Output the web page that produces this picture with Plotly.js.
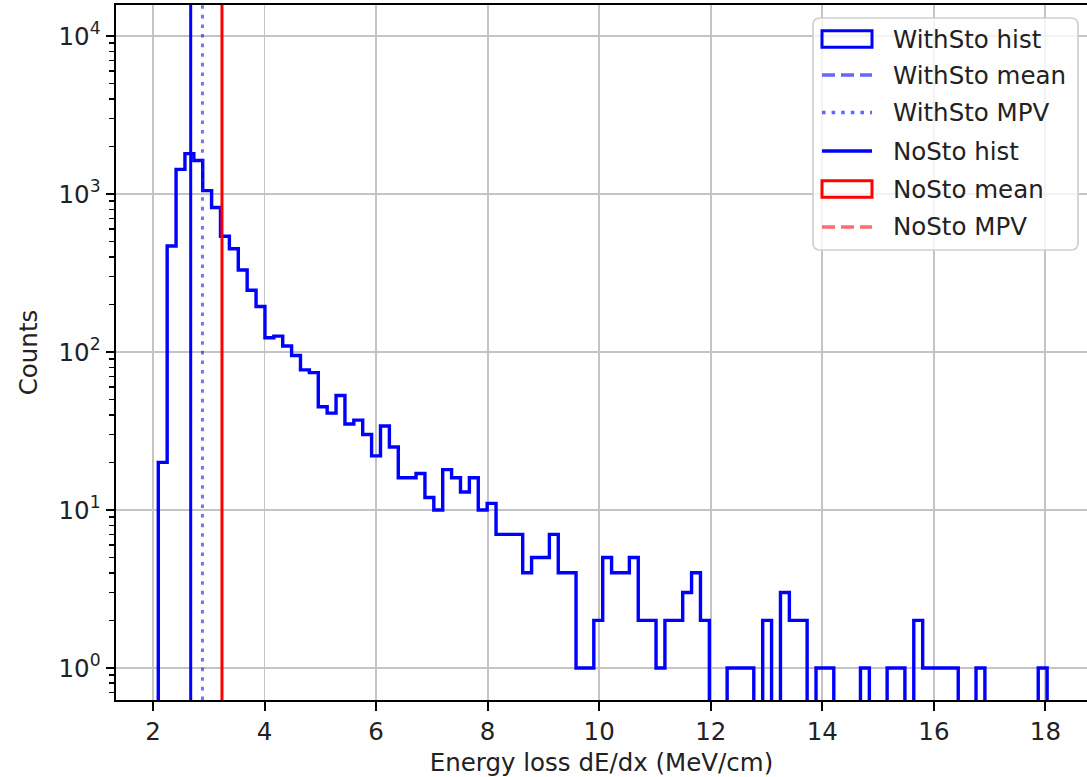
<!DOCTYPE html>
<html><head><meta charset="utf-8">
<script src="https://cdn.plot.ly/plotly-3.0.1.min.js"></script>
<style>html,body{margin:0;padding:0;background:#fff;overflow:hidden}#chart{width:1087px;height:777px}</style>
</head><body><div id="chart"></div>
<script>
// ---------------- data ----------------
const binRange = [2.095, 18.03];          // histogram range, 100 equal bins
const binCounts = [
  20, 468, 1430, 1800, 1630, 1050, 820, 540, 450, 330,
  246, 194, 123, 126, 109, 95, 77, 74, 45, 41,
  53, 35, 37, 30, 22, 34, 25, 16, 16, 17,
  12, 10, 18, 16, 13, 16, 10, 11, 7, 7,
  7, 4, 5, 5, 7, 4, 4, 1, 1, 2,
  5, 4, 4, 5, 2, 2, 1, 2, 2, 3,
  4, 2, 0, 0, 1, 1, 1, 0, 2, 0,
  3, 2, 2, 0, 1, 1, 0, 0, 0, 1,
  0, 0, 1, 1, 0, 2, 1, 1, 1, 1,
  0, 0, 1, 0, 0, 0, 0, 0, 0, 1
];
const meanWithSto = 2.676;   // solid blue line
const mpvWithSto  = 2.887;   // dotted blue line
const meanNoSto   = 3.237;   // solid red line
const legendLabels = ['WithSto hist', 'WithSto mean', 'WithSto MPV', 'NoSto hist', 'NoSto mean', 'NoSto MPV'];
const xTickVals = [2, 4, 6, 8, 10, 12, 14, 16, 18];
const xTickText = ['2', '4', '6', '8', '10', '12', '14', '16', '18'];
const yTickVals = [1, 10, 100, 1000, 10000];
const yTickText = ['10<sup>0</sup>', '10<sup>1</sup>', '10<sup>2</sup>', '10<sup>3</sup>', '10<sup>4</sup>'];
const yMinorVals = [0.7, 0.8, 0.9, 2, 3, 4, 5, 6, 7, 8, 9, 20, 30, 40, 50, 60, 70, 80, 90,
  200, 300, 400, 500, 600, 700, 800, 900, 2000, 3000, 4000, 5000, 6000, 7000, 8000, 9000];
const xTitle = 'Energy loss dE/dx (MeV/cm)';
const yTitle = 'Counts';

// ---------------- build step outline ----------------
const nB = binCounts.length;
const bw = (binRange[1] - binRange[0]) / nB;
const logFloor = 1e-3; // empty bins fall below the axis (clipped, like matplotlib)
const stepX = [binRange[0]], stepY = [logFloor];
for (let i = 0; i < nB; i++) {
  const a = binRange[0] + i * bw, b = a + bw;
  const c = binCounts[i] > 0 ? binCounts[i] : logFloor;
  stepX.push(a, b); stepY.push(c, c);
}
stepX.push(binRange[1]); stepY.push(logFloor);

// ---------------- geometry helpers ----------------
const W = 1087, H = 777, ML = 116, MR = 0, MT = 5, MB = 77;
const PW = W - ML - MR, PH = H - MT - MB;
const pxX = p => (p - ML) / PW;
const pxY = p => (H - MB - p) / PH;

const FONT = 'DejaVu Sans, Liberation Sans, sans-serif';
const TXT = '#222';
const FS = 24.5;

const traces = [{
  type: 'scatter', mode: 'lines', x: stepX, y: stepY,
  line: {color: 'blue', width: 3.4, shape: 'linear'},
  hoverinfo: 'skip', showlegend: false
}];

const shapes = [
  {type: 'line', xref: 'x', yref: 'paper', x0: meanWithSto, x1: meanWithSto, y0: 0, y1: 1, line: {color: 'blue', width: 3}},
  {type: 'line', xref: 'x', yref: 'paper', x0: mpvWithSto, x1: mpvWithSto, y0: 0, y1: 1, line: {color: 'rgba(20,20,255,0.6)', width: 3, dash: '3.6px,6px'}},
  {type: 'line', xref: 'x', yref: 'paper', x0: meanNoSto, x1: meanNoSto, y0: 0, y1: 1, line: {color: 'red', width: 3}}
];

// legend box (rounded)
const bx0 = pxX(813), bx1 = pxX(1078), by0 = pxY(250), by1 = pxY(18);
const rx = 7 / PW, ry = 7 / PH;
shapes.push({
  type: 'path', xref: 'paper', yref: 'paper',
  path: `M ${bx0 + rx},${by0} L ${bx1 - rx},${by0} Q ${bx1},${by0} ${bx1},${by0 + ry} L ${bx1},${by1 - ry} Q ${bx1},${by1} ${bx1 - rx},${by1} L ${bx0 + rx},${by1} Q ${bx0},${by1} ${bx0},${by1 - ry} L ${bx0},${by0 + ry} Q ${bx0},${by0} ${bx0 + rx},${by0} Z`,
  fillcolor: 'rgba(255,255,255,0.8)', line: {color: '#d0d0d0', width: 1.7}
});
const rowY = [39, 75, 112.5, 151, 189, 227];
const hx0 = pxX(822), hx1 = pxX(872);
const handleStyle = [
  {kind: 'rect', color: 'blue'},
  {kind: 'line', color: 'rgba(20,20,255,0.65)', dash: '13px,6px'},
  {kind: 'line', color: 'rgba(20,20,255,0.65)', dash: '3.6px,6px'},
  {kind: 'line', color: 'blue', dash: 'solid'},
  {kind: 'rect', color: 'red'},
  {kind: 'line', color: 'rgba(255,30,30,0.65)', dash: '13px,6px'}
];
const annotations = [];
handleStyle.forEach((h, i) => {
  const cy = rowY[i];
  if (h.kind === 'rect') {
    shapes.push({type: 'rect', xref: 'paper', yref: 'paper', x0: hx0, x1: hx1, y0: pxY(cy + 8.3), y1: pxY(cy - 8.3),
      fillcolor: 'rgba(0,0,0,0)', line: {color: h.color, width: 3}});
  } else {
    shapes.push({type: 'line', xref: 'paper', yref: 'paper', x0: hx0, x1: hx1, y0: pxY(cy), y1: pxY(cy),
      line: {color: h.color, width: 3.3, dash: h.dash}});
  }
  annotations.push({xref: 'paper', yref: 'paper', x: pxX(892), y: pxY(cy), xanchor: 'left', yanchor: 'middle',
    text: legendLabels[i], showarrow: false, font: {family: FONT, size: FS, color: TXT}, borderpad: 0});
});

const layout = {
  width: W, height: H,
  margin: {l: ML, r: MR, t: MT, b: MB, pad: 0},
  paper_bgcolor: '#fff', plot_bgcolor: '#fff',
  font: {family: FONT, size: FS, color: TXT},
  showlegend: false,
  xaxis: {
    range: [1.337, 18.745], tickmode: 'array', tickvals: xTickVals, ticktext: xTickText,
    ticks: 'outside', ticklen: 8.5, tickwidth: 2, tickcolor: '#000',
    showgrid: true, gridcolor: '#c4c4c4', gridwidth: 1.9, zeroline: false,
    showline: true, linecolor: '#000', linewidth: 2, mirror: true,
    tickfont: {family: FONT, size: FS, color: TXT},
    title: {text: xTitle, font: {family: FONT, size: FS, color: TXT}, standoff: 13}
  },
  yaxis: {
    type: 'log', range: [-0.203, 4.196], tickmode: 'array', tickvals: yTickVals, ticktext: yTickText,
    ticks: 'outside', ticklen: 8.5, tickwidth: 2, tickcolor: '#000',
    minor: {tickmode: 'array', tickvals: yMinorVals, ticks: 'outside', ticklen: 5, tickwidth: 1.5, tickcolor: '#000', showgrid: false},
    showgrid: true, gridcolor: '#c4c4c4', gridwidth: 1.9, zeroline: false,
    showline: true, linecolor: '#000', linewidth: 2, mirror: false,
    tickfont: {family: FONT, size: FS, color: TXT},
    title: {text: yTitle, font: {family: FONT, size: FS, color: TXT}, standoff: 14}
  },
  shapes: shapes,
  annotations: annotations
};

Plotly.newPlot('chart', traces, layout, {displayModeBar: false, staticPlot: true});
</script>
</body></html>
